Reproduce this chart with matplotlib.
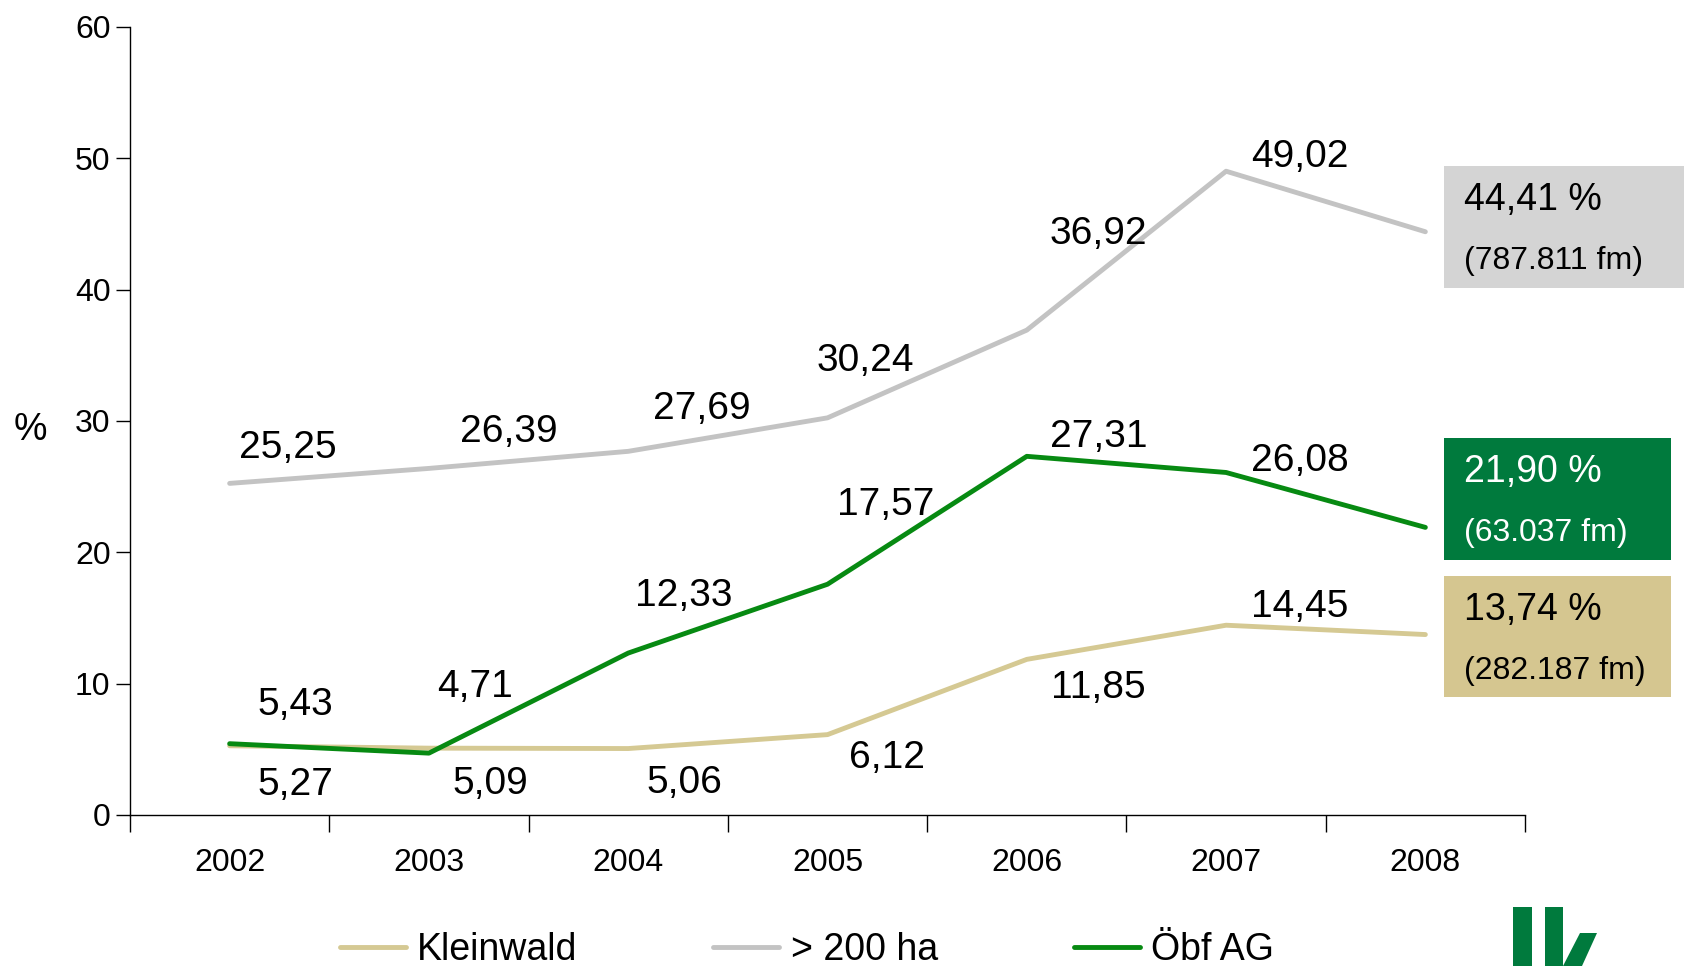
import matplotlib
matplotlib.use("Agg")
import matplotlib.pyplot as plt
from matplotlib.patches import Rectangle, Polygon

plt.rcParams['font.family'] = ['Liberation Sans', 'DejaVu Sans']

years = ['2002', '2003', '2004', '2005', '2006', '2007', '2008']
kleinwald = [5.27, 5.09, 5.06, 6.12, 11.85, 14.45, 13.74]
gross = [25.25, 26.39, 27.69, 30.24, 36.92, 49.02, 44.41]
oebf = [5.43, 4.71, 12.33, 17.57, 27.31, 26.08, 21.90]
volumes_2008 = ['282.187', '787.811', '63.037']

series_names = ['Kleinwald', '> 200 ha', 'Öbf AG']
line_colors = ['#d5c993', '#c3c3c3', '#078a12']
box_colors = ['#d5c690', '#d4d4d4', '#007a3d']
text_colors = ['black', 'black', 'white']

# label offsets (dx in categories, dy in %) for 2002..2007
offsets = [
    [(0.33, -2.95), (0.31, -2.75), (0.28, -2.6), (0.30, -1.75), (0.36, -2.15), (0.37, 1.4)],
    [(0.29, 2.7), (0.40, 2.8), (0.37, 3.25), (0.19, 4.35), (0.36, 7.35), (0.37, 1.05)],
    [(0.33, 2.95), (0.23, 5.05), (0.28, 4.35), (0.29, 6.05), (0.36, 1.45), (0.37, 0.85)],
]
# box rows in pixels (top, bottom, right)
boxes = [(576, 697, 1671), (166, 288, 1684), (438, 560, 1671)]

W, H = 1684, 966
fig = plt.figure(figsize=(W / 100, H / 100), dpi=100)
ax = fig.add_axes([130 / W, 1 - 815 / H, (1525 - 130) / W, (815 - 27) / H])

x = list(range(len(years)))
all_series = [kleinwald, gross, oebf]
for vals, name, col in zip(all_series, series_names, line_colors):
    ax.plot(x, vals, color=col, lw=3.5, label=name, solid_capstyle='round')

for vals, offs in zip(all_series, offsets):
    for i, (dx, dy) in enumerate(offs):
        ax.text(i + dx, vals[i] + dy, f'{vals[i]:.2f}'.replace('.', ','),
                fontsize=28, ha='center', va='center')

ax.set_xlim(-0.5, 6.5)
ax.set_ylim(0, 60)
ax.set_yticks(range(0, 61, 10))
ax.set_xticks([i - 0.5 for i in range(8)])
ax.set_xticklabels([])
ax.set_xticks(x, minor=True)
ax.set_xticklabels(years, minor=True)
ax.tick_params(axis='x', which='major', length=12, width=1, direction='out')
ax.tick_params(axis='x', which='minor', length=0, pad=24, labelsize=23)
ax.tick_params(axis='y', length=10, width=1, pad=4, labelsize=23)
for s in ['top', 'right']:
    ax.spines[s].set_visible(False)
for s in ['left', 'bottom']:
    ax.spines[s].set_linewidth(1)

fig.text(30 / W, 1 - 430 / H, '%', fontsize=27, ha='center', va='center')

# 2008 value boxes
for vals, vol, (top, bot, right), bc, tc in zip(all_series, volumes_2008, boxes,
                                              box_colors, text_colors):
    fig.patches.append(Rectangle((1444 / W, 1 - bot / H), (right - 1444) / W,
                                 (bot - top) / H, transform=fig.transFigure,
                                 facecolor=bc, edgecolor='none'))
    fig.text(1464 / W, 1 - (top + 34) / H, f'{vals[-1]:.2f} %'.replace('.', ','),
             fontsize=27, color=tc, ha='left', va='center')
    fig.text(1464 / W, 1 - (top + 95) / H, f'({vol} fm)',
             fontsize=23, color=tc, ha='left', va='center')

fig.legend(loc='center left', bbox_to_anchor=(340 / W, 1 - 950 / H), ncol=3,
           frameon=False, fontsize=27, handlelength=1.76, handletextpad=0.3,
           columnspacing=3.62, borderpad=0, borderaxespad=0)

# logo, cut at the bottom edge like in the slide
logo = '#007a3d'
fig.patches.append(Rectangle((1513 / W, 0), 19 / W, (966 - 907) / H,
                             transform=fig.transFigure, facecolor=logo, edgecolor='none'))
fig.patches.append(Rectangle((1545 / W, 0), 18 / W, (966 - 907) / H,
                             transform=fig.transFigure, facecolor=logo, edgecolor='none'))
fig.patches.append(Polygon([(1580 / W, 1 - 933 / H), (1597 / W, 1 - 933 / H),
                            (1582 / W, 0), (1563 / W, 0)],
                           transform=fig.transFigure, facecolor=logo, edgecolor='none'))

fig.savefig('out.png', dpi=100)
